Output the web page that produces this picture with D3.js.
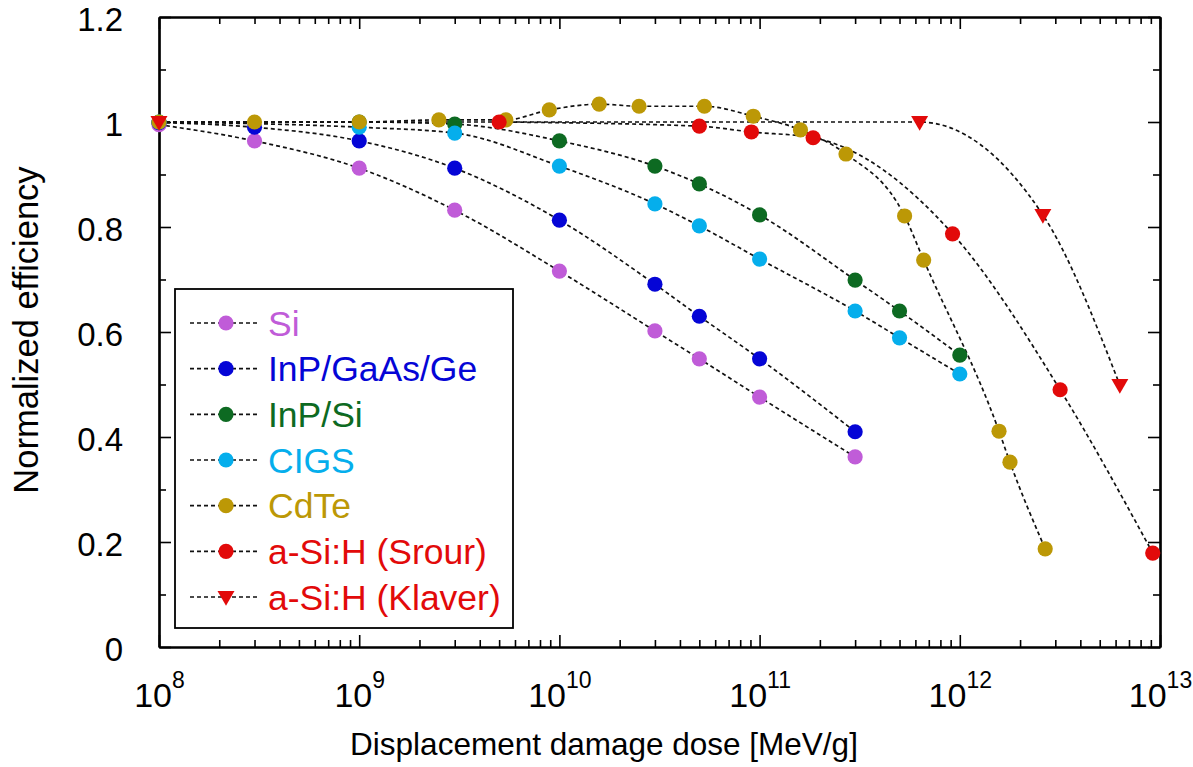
<!DOCTYPE html>
<html>
<head>
<meta charset="utf-8">
<script src="https://cdn.jsdelivr.net/npm/d3@7"></script>
<style>
  html, body { margin: 0; padding: 0; background: #fff; }
  svg { display: block; font-family: "Liberation Sans", Arial, sans-serif; }
</style>
</head>
<body>
<svg id="chart" width="1193" height="767"></svg>
<script>
// ---------- data ----------
const seriesNames = ["Si", "InP/GaAs/Ge", "InP/Si", "CIGS", "CdTe", "a-Si:H (Srour)", "a-Si:H (Klaver)"];
const seriesColors = ["#C05CD8", "#0505D6", "#0D6A22", "#05AEEC", "#BC9806", "#E20A0A", "#E20A0A"];
const seriesShapes = ["circle", "circle", "circle", "circle", "circle", "circle", "triangle"];

const doseSi = [1e8, 3e8, 1e9, 3e9, 1e10, 3e10, 5e10, 1e11, 3e11];
const effSi  = [0.995, 0.964, 0.912, 0.832, 0.716, 0.602, 0.549, 0.476, 0.362];

const doseInPGaAsGe = [1e8, 3e8, 1e9, 3e9, 1e10, 3e10, 5e10, 1e11, 3e11];
const effInPGaAsGe  = [0.999, 0.99, 0.964, 0.912, 0.813, 0.691, 0.630, 0.549, 0.410];

const doseInPSi = [1e8, 1e9, 3e9, 1e10, 3e10, 5e10, 1e11, 3e11, 5e11, 1e12];
const effInPSi  = [1.0, 1.0, 0.996, 0.964, 0.916, 0.882, 0.823, 0.699, 0.640, 0.556];

const doseCIGS = [1e8, 1e9, 3e9, 1e10, 3e10, 5e10, 1e11, 3e11, 5e11, 1e12];
const effCIGS  = [1.0, 0.99, 0.979, 0.916, 0.844, 0.802, 0.739, 0.640, 0.589, 0.520];

const doseCdTe = [1e8, 3e8, 1e9, 2.5e9, 5.4e9, 8.9e9, 1.58e10, 2.5e10, 5.3e10, 9.3e10, 1.6e11, 2.7e11, 5.3e11, 6.6e11, 1.57e12, 1.78e12, 2.67e12];
const effCdTe  = [1.0, 1.0, 1.0, 1.004, 1.004, 1.023, 1.034, 1.03, 1.03, 1.011, 0.985, 0.939, 0.821, 0.737, 0.411, 0.352, 0.187];

const doseSrour = [5e9, 5e10, 9.1e10, 1.85e11, 9.2e11, 3.17e12, 9.2e12];
const effSrour  = [1.0, 0.992, 0.981, 0.97, 0.787, 0.49, 0.179];

const doseKlaver = [1e8, 6.3e11, 2.6e12, 6.3e12];
const effKlaver  = [1.0, 1.0, 0.823, 0.499];

const seriesDose = [doseSi, doseInPGaAsGe, doseInPSi, doseCIGS, doseCdTe, doseSrour, doseKlaver];
const seriesEff  = [effSi, effInPGaAsGe, effInPSi, effCIGS, effCdTe, effSrour, effKlaver];

const xMajorTicks = [1e8, 1e9, 1e10, 1e11, 1e12, 1e13];
const xTickExponents = ["8", "9", "10", "11", "12", "13"];
const yMajorTicks = [0, 0.2, 0.4, 0.6, 0.8, 1.0, 1.2];
const yTickLabels = ["0", "0.2", "0.4", "0.6", "0.8", "1", "1.2"];
const yMinorTicks = [0.1, 0.3, 0.5, 0.7, 0.9, 1.1];

const xTitle = "Displacement damage dose [MeV/g]";
const yTitle = "Normalized efficiency";

// ---------- layout ----------
const plotLeft = 159, plotRight = 1160, plotTop = 17, plotBottom = 647;
const svg = d3.select("#chart");

const x = d3.scaleLog().domain([1e8, 1e13]).range([plotLeft, plotRight]);
const y = d3.scaleLinear().domain([0, 1.2]).range([plotBottom, plotTop]);

const xMinorTicks = [];
for (let e = 8; e < 13; e++) for (let m = 2; m <= 9; m++) xMinorTicks.push(m * Math.pow(10, e));

function styleAxis(g) {
  g.selectAll("path.domain").attr("stroke", "#000").attr("stroke-width", 2.2);
  g.selectAll(".tick line").attr("stroke", "#000").attr("stroke-width", 1.6);
}

// minor ticks
svg.append("g").attr("transform", `translate(0,${plotBottom})`)
  .call(d3.axisBottom(x).tickValues(xMinorTicks).tickSizeInner(-7).tickSizeOuter(0).tickFormat(""))
  .call(styleAxis);
svg.append("g").attr("transform", `translate(0,${plotTop})`)
  .call(d3.axisTop(x).tickValues(xMinorTicks).tickSizeInner(-7).tickSizeOuter(0).tickFormat(""))
  .call(styleAxis);
svg.append("g").attr("transform", `translate(${plotLeft},0)`)
  .call(d3.axisLeft(y).tickValues(yMinorTicks).tickSizeInner(-7).tickSizeOuter(0).tickFormat(""))
  .call(styleAxis);
svg.append("g").attr("transform", `translate(${plotRight},0)`)
  .call(d3.axisRight(y).tickValues(yMinorTicks).tickSizeInner(-7).tickSizeOuter(0).tickFormat(""))
  .call(styleAxis);

// major ticks
svg.append("g").attr("transform", `translate(0,${plotTop})`)
  .call(d3.axisTop(x).tickValues(xMajorTicks).tickSizeInner(-12).tickSizeOuter(0).tickFormat(""))
  .call(styleAxis);
svg.append("g").attr("transform", `translate(${plotRight},0)`)
  .call(d3.axisRight(y).tickValues(yMajorTicks).tickSizeInner(-12).tickSizeOuter(0).tickFormat(""))
  .call(styleAxis);

const xAxisG = svg.append("g").attr("transform", `translate(0,${plotBottom})`)
  .call(d3.axisBottom(x).tickValues(xMajorTicks).tickSizeInner(-12).tickSizeOuter(0).tickFormat(""))
  .call(styleAxis);
xAxisG.selectAll(".tick").each(function(d, i) {
  const t = d3.select(this).append("text")
    .attr("y", 60).attr("text-anchor", "middle").attr("fill", "#000")
    .style("font-size", "34px").style("font-family", '"Liberation Sans", Arial, sans-serif');
  t.append("tspan").text("10");
  t.append("tspan").attr("dy", -19).style("font-size", "23px").text(xTickExponents[i]);
});

const yAxisG = svg.append("g").attr("transform", `translate(${plotLeft},0)`)
  .call(d3.axisLeft(y).tickValues(yMajorTicks).tickSizeInner(-12).tickSizeOuter(0)
        .tickPadding(36).tickFormat((d, i) => yTickLabels[i]))
  .call(styleAxis);
yAxisG.selectAll(".tick text")
  .attr("fill", "#000").attr("dy", "0.42em")
  .style("font-size", "33px").style("font-family", '"Liberation Sans", Arial, sans-serif');

// titles
svg.append("text").attr("x", 604).attr("y", 755).attr("text-anchor", "middle")
  .style("font-size", "31.5px").attr("fill", "#000").text(xTitle);
svg.append("text").attr("transform", "translate(38,330) rotate(-90)").attr("text-anchor", "middle")
  .style("font-size", "34.5px").attr("fill", "#000").text(yTitle);

// ---------- series ----------
const line = d3.line().x(d => x(d[0])).y(d => y(d[1])).curve(d3.curveMonotoneX);
const triangle = d3.symbol().type(d3.symbolTriangle).size(125);

function drawMarker(g, shape, color, cx, cy) {
  if (shape === "triangle") {
    g.append("path").attr("d", triangle())
      .attr("transform", `translate(${cx},${cy - 1}) rotate(180)`).attr("fill", color);
  } else {
    g.append("circle").attr("cx", cx).attr("cy", cy).attr("r", 7.6).attr("fill", color);
  }
}

const linesG = svg.append("g");
const marksG = svg.append("g");
seriesNames.forEach((name, i) => {
  const pts = seriesDose[i].map((d, j) => [d, seriesEff[i][j]]);
  linesG.append("path").datum(pts).attr("d", line)
    .attr("fill", "none").attr("stroke", "#111").attr("stroke-width", 1.7)
    .attr("stroke-dasharray", "4,3");
});
seriesNames.forEach((name, i) => {
  const g = marksG.append("g");
  seriesDose[i].forEach((d, j) => drawMarker(g, seriesShapes[i], seriesColors[i], x(d), y(seriesEff[i][j])));
});

// ---------- legend ----------
const lg = svg.append("g");
lg.append("rect").attr("x", 175).attr("y", 289).attr("width", 338).attr("height", 339)
  .attr("fill", "#fff").attr("stroke", "#000").attr("stroke-width", 1.8);
const legendY = d3.scalePoint().domain(seriesNames).range([323, 597]);
seriesNames.forEach((name, i) => {
  const cy = legendY(name);
  lg.append("line").attr("x1", 190).attr("x2", 260).attr("y1", cy).attr("y2", cy)
    .attr("stroke", "#111").attr("stroke-width", 1.7).attr("stroke-dasharray", "4,3");
  drawMarker(lg, seriesShapes[i], seriesColors[i], 226, cy);
  lg.append("text").attr("x", 268).attr("y", cy + 12.5).attr("fill", seriesColors[i])
    .style("font-size", "35.5px").text(name);
});
</script>
</body>
</html>
